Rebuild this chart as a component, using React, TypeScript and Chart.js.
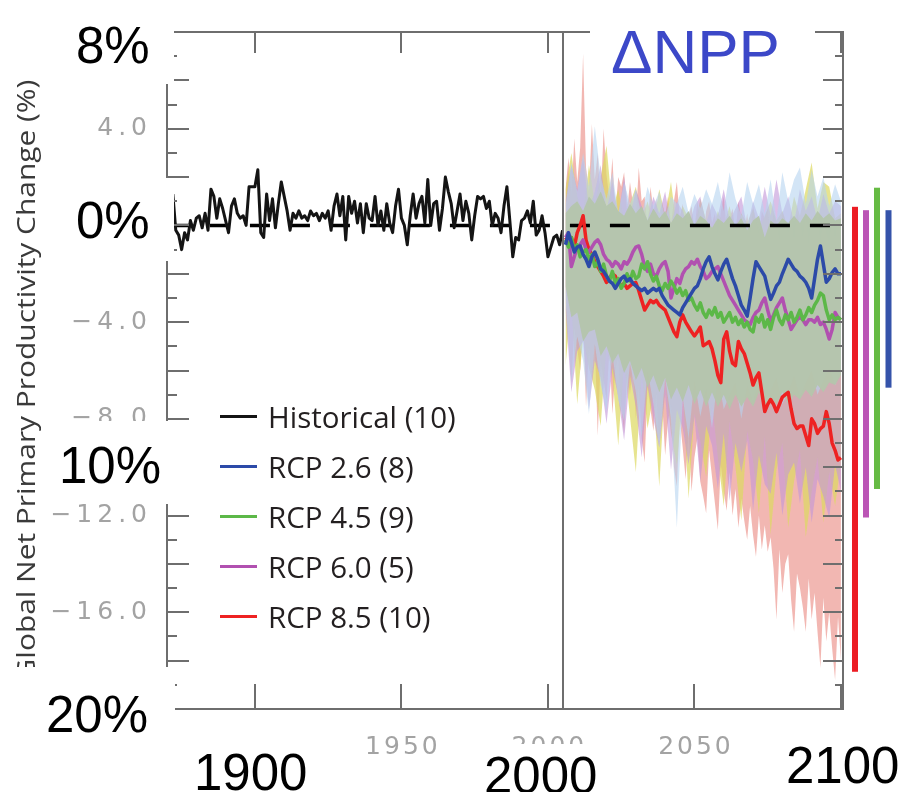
import React, { useEffect, useRef } from "react";
import { Chart, registerables } from "chart.js";

Chart.register(...registerables);

// ---------- DATA ----------
const HIST_START = 1872;
const RCP_START = 2006;
const BAND_STEP = 2;
const DIVIDER_YEAR = 2005;

const historical = [
  1.3, -0.2, -0.4, -1.0, -0.3, -0.6, 0.2, -0.2, 0.3, 0.4,
  -0.1, 0.5, -0.2, 1.5, 1.2, 0.3, 1.1, 0.7, 0.2, -0.3,
  0.8, 1.1, 0.5, 0.3, 0.4, 0.0, 1.6, 1.6, 1.6, 2.3,
  -0.3, -0.5, 1.3, 0.2, 1.1, -0.1, 0.9, 1.8, 1.2, 0.6,
  -0.2, 0.5, 0.3, 0.6, 0.3, 0.4, 0.2, 0.6, 0.4, 0.5,
  0.2, 0.5, 0.3, 0.6, -0.2, 0.8, 1.3, 0.4, 1.2, -0.6,
  1.2, 0.5, 1.0, 0.1, 0.9, -0.3, 0.9, 0.3, 0.2, 1.2,
  0.0, 0.6, -0.2, 0.9, 0.1, -0.3, 0.8, 1.5, 0.3, 0.0,
  -0.8, 0.4, 1.3, 0.3, 0.9, 1.2, 0.1, 1.9, 0.0, 0.9,
  1.0, -0.2, 0.7, 2.0, 1.4, 0.9, -0.1, 0.6, 1.3, 0.2,
  1.0, 0.5, -0.6, 0.4, 1.2, 1.1, 1.2, 0.7, 1.0, 0.0,
  0.5, 0.3, -0.3, 0.8, 1.6, 0.2, -1.3, -0.5, -0.6, 0.2,
  0.3, 0.6, 0.1, 1.0, -0.4, -0.2, 0.4, -0.3, -1.3, -0.9,
  -0.5, -0.4, -0.8, -0.2,
];

const rcp26 = [
  -0.8, -0.3, -0.7, -1.1, -0.9, -0.85, -1.2, -1.4, -1.7, -1.3,
  -1.1, -1.4, -1.8, -1.9, -2.1, -2.3, -2.4, -2.6, -2.4, -2.2,
  -2.1, -2.3, -2.2, -2.4, -2.5, -2.6, -2.7, -2.6, -2.8, -2.7,
  -2.6, -2.7, -2.6, -2.9, -3.1, -3.3, -3.4, -3.5, -3.6, -3.7,
  -3.4, -3.2, -3.0, -2.8, -2.6, -2.5, -2.2, -1.8, -1.5, -1.3,
  -1.7, -2.0, -2.25, -1.9, -1.6, -1.4, -1.8, -2.2, -2.5, -2.9,
  -3.3, -3.5, -3.75, -3.0, -2.2, -1.5, -1.7, -1.9, -2.1, -2.6,
  -3.06, -2.8, -2.5, -2.35, -2.0, -1.7, -1.4, -1.6, -1.8, -1.9,
  -2.1, -2.2, -2.35, -2.6, -3.0, -2.2, -1.4, -0.85, -1.6, -2.35,
  -2.2, -1.95, -1.8, -2.0, -2.0,
];

const rcp45 = [
  -0.6, -0.9, -0.5, -1.0, -0.8, -1.3, -1.1, -1.0, -1.4, -1.2,
  -1.7, -1.5, -1.9, -1.6, -2.1, -2.3, -1.9, -2.4, -2.2, -2.6,
  -2.4, -2.0, -2.3, -1.9, -2.2, -2.1, -1.6, -1.8, -1.5, -2.0,
  -2.3, -2.1, -2.5, -2.7, -2.4, -2.6, -2.3, -2.5, -2.8, -2.6,
  -2.9, -2.7, -3.1, -3.0, -3.3, -3.5, -3.2, -3.6, -3.8, -3.5,
  -3.7, -3.4, -3.8, -3.6, -4.0, -3.8, -3.6, -4.0, -3.8, -4.1,
  -3.9, -4.2, -4.0, -4.3, -4.4, -3.8, -4.0, -3.7, -4.2, -3.9,
  -4.3, -3.8, -3.5, -3.9, -4.1, -3.7, -3.9, -3.6, -4.0, -3.8,
  -3.5, -3.9, -3.7, -3.4, -3.6, -3.3, -3.1, -2.8, -2.9, -3.5,
  -3.9, -3.7, -3.9, -3.8, -3.9,
];

const rcp60 = [
  -0.5, -0.3, -1.7, -1.3, -0.9, -0.8, -0.6, -1.0, -1.1, -0.9,
  -0.7, -0.6, -0.8, -1.2, -1.4, -1.5, -1.7, -1.5, -1.6, -1.8,
  -1.5, -1.6, -1.4, -1.1, -0.9, -0.85, -1.2, -1.7, -1.9, -1.6,
  -2.0, -2.1, -1.8, -1.6, -1.5, -1.9, -3.0, -2.6, -2.2, -2.4,
  -2.0, -1.8, -1.7, -1.5, -1.6, -1.4, -1.7, -1.9, -2.2, -2.1,
  -1.9, -1.8, -1.7, -2.0, -2.3, -2.6, -2.9, -3.1, -3.3, -3.5,
  -3.7, -3.9, -4.0, -4.1, -3.8, -3.6, -3.5, -3.2, -3.0, -3.5,
  -3.96, -3.7, -3.4, -3.2, -3.0, -3.5, -3.9, -4.3, -4.1, -3.9,
  -3.8, -3.9, -4.1, -3.9, -3.9, -4.0, -3.8, -4.1, -4.0, -4.3,
  -4.7, -4.3, -3.6, -3.8, -3.9,
];

const rcp85 = [
  -0.5, -0.7, -0.5, -0.9, -0.3, 0.0, 0.4, -0.6, -1.0, -1.2,
  -1.5, -1.7, -1.9, -2.1, -2.36, -2.2, -2.0, -2.1, -2.4, -2.5,
  -2.4, -2.6, -2.5, -2.4, -2.36, -2.7, -3.1, -3.5, -3.3, -3.1,
  -3.2, -3.1, -3.3, -3.4, -3.5, -3.8, -4.1, -4.4, -4.6, -4.0,
  -3.7, -4.0, -4.2, -4.4, -4.57, -4.4, -4.2, -4.98, -4.9, -4.8,
  -5.1, -5.6, -6.2, -6.5, -4.7, -4.4, -5.2, -5.7, -5.8, -4.8,
  -5.1, -5.3, -5.7, -6.1, -6.6, -6.3, -6.1, -6.9, -7.7, -7.4,
  -7.2, -7.4, -7.7, -7.4, -7.1, -7.0, -6.9, -7.6, -8.2, -8.4,
  -8.3, -8.3, -8.7, -9.1, -8.0, -8.2, -8.6, -8.4, -8.3, -7.7,
  -8.2, -9.0, -9.3, -9.7, -9.6,
];

// model spread, RCP 8.5 (annual)
const band85Upper = [
  1.5, 2.8, 1.2, 3.6, 1.8, 3.2, 7.1, 2.4, 1.4, 4.2,
  1.9, 3.0, 0.9, 4.0, 2.1, 1.1, 2.8, 0.5, 2.0, 1.6,
  2.2, 0.6, 1.8, 0.9, 0.2, 2.4, 1.0, 1.2, -0.1, 1.6,
  0.6, 1.1, -0.2, 0.9, 0.4, 1.2, 0.1, 1.0, 1.8, 0.3,
  0.9, -0.3, 0.4, 0.8, -0.2, 1.0, 0.2, -0.5, 0.6, 1.0,
  0.1, 0.5, -0.6, 0.6, 1.2, -0.2, 0.3, 0.7, -0.4, 1.0,
  0.3, -0.3, 0.5, -0.7, 0.8, 0.1, -0.5, 0.6, 0.3, 0.7,
  -0.4, 0.5, 0.1, -0.8, 0.6, 0.2, -0.5, 0.4, -0.9, 0.5,
  0.1, -0.6, 0.3, -1.0, 0.4, -0.2, 0.2, -0.9, 0.3, -0.4,
  -0.8, 0.1, -0.7, 0.2, -0.4,
];
const band85Lower = [
  -2.5, -4.5, -6.5, -4.2, -5.1, -6.0, -3.8, -7.5, -5.0, -6.3,
  -4.9, -8.7, -5.6, -6.4, -7.2, -5.1, -7.8, -6.0, -5.4, -7.5,
  -8.6, -6.1, -7.0, -5.8, -8.0, -6.6, -8.8, -9.8, -6.7, -7.6,
  -8.5, -6.9, -9.0, -7.3, -9.5, -8.1, -7.4, -10.0, -10.8, -8.0,
  -9.2, -10.5, -8.4, -11.0, -9.6, -8.8, -10.6, -11.2, -11.9, -9.3,
  -10.4, -11.5, -12.6, -9.9, -11.0, -11.8, -10.2, -12.0, -10.9, -12.5,
  -11.3, -12.2, -13.0, -11.6, -12.8, -13.7, -12.0, -13.4, -12.4, -13.5,
  -12.9, -14.2, -16.3, -13.4, -15.2, -14.0, -13.6, -15.5, -16.8, -14.4,
  -15.0, -15.8, -16.8, -14.6, -16.3, -15.2, -16.8, -18.3, -15.4, -17.2,
  -16.0, -17.5, -18.8, -16.2, -18.0,
];

// model spreads, every second year from 2006
const band45Upper = [
  1.5, 3.0, 1.2, 0.4, 2.5, 0.9, 2.0, 3.3,
  0.6, 1.5, 0.2, 0.9, 1.6, 0.3, 1.0, 0.1,
  1.5, 0.4, 1.8, -0.1, 0.8, 0.3, -0.2, 1.1,
  0.2, -0.3, 0.6, 0.0, 0.8, -0.4, 0.5, 0.1,
  0.7, -0.2, 0.4, 1.0, 0.2, 0.6, -0.1, 1.2,
  0.4, 1.5, 2.6, 0.7, 1.8, 1.6, 0.3, 0.5,
];
const band45Lower = [
  -5.8, -3.2, -7.4, -4.6, -5.9, -6.8, -8.3, -4.9,
  -6.2, -9.1, -5.6, -7.9, -10.2, -6.1, -8.4, -7.0,
  -10.8, -6.4, -8.6, -9.9, -6.9, -11.3, -7.8, -8.9,
  -10.4, -7.3, -9.6, -11.6, -8.1, -10.0, -12.2, -8.5,
  -9.7, -11.9, -8.7, -12.8, -10.1, -9.0, -12.5, -10.6,
  -9.3, -12.9, -11.0, -9.6, -12.3, -10.2, -11.6, -9.8,
];
const band60Upper = [
  1.0, 2.5, 1.5, 2.8, 0.7, 1.4, 2.5, 0.6,
  1.8, 0.4, 2.0, 0.3, 1.5, 0.8, 0.2, 1.2,
  0.5, 1.4, 0.0, 1.0, 0.6, -0.1, 0.8, 1.2,
  0.1, 0.9, 0.4, 1.5, 0.2, 0.7, 1.2, -0.1,
  1.0, 0.3, 1.6, 0.4, 1.9, 0.5, 1.2, 0.1,
  1.5, 0.6, 1.2, 0.2, 1.3, 0.5, 1.0, 0.8,
];
const band60Lower = [
  -3.5, -6.9, -5.2, -4.8, -7.6, -5.6, -6.3, -8.2,
  -5.9, -7.1, -8.9, -6.2, -7.5, -9.6, -6.6, -8.0,
  -9.2, -7.0, -10.1, -7.6, -8.4, -9.9, -7.9, -10.6,
  -8.3, -9.1, -10.9, -8.6, -11.4, -9.0, -10.2, -8.9,
  -11.8, -9.5, -10.7, -11.1, -9.4, -12.0, -10.3, -9.8,
  -11.5, -10.0, -12.3, -10.5, -11.2, -12.1, -9.9, -11.0,
];
const band26Upper = [
  0.8, 2.6, 1.4, 3.0, 1.6, 4.1, 2.0, 1.1,
  2.2, 0.5, 1.8, 0.9, 1.5, 0.4, 1.6, 0.8,
  1.4, 0.3, 1.2, 0.9, 1.6, 0.5, 1.3, 0.7,
  1.5, 0.9, 1.8, 0.6, 2.2, 1.1, 0.4, 1.8,
  0.9, 1.7, 0.5, 1.9, 0.2, 2.2, 1.0, 1.9,
  2.4, 0.9, 2.3, 1.2, 2.0, 0.8, 1.7, 1.0,
];
const band26Lower = [
  -3.0, -6.5, -4.6, -5.6, -7.8, -4.9, -6.6, -7.7,
  -5.3, -7.2, -8.1, -5.7, -6.9, -8.8, -6.0, -7.4,
  -9.2, -6.3, -8.0, -12.5, -7.1, -8.8, -6.4, -7.9,
  -6.7, -8.4, -6.2, -7.6, -7.0, -6.5, -8.0, -6.6,
  -7.3, -6.4, -7.8, -6.8, -6.3, -7.4, -6.9, -6.2,
  -7.1, -6.5, -6.0, -7.0, -6.4, -5.9, -6.6, -6.0,
];
const bandCommonUpper = [
  0.5, 0.8, 1.0, 0.6, 1.2, 0.9, 1.4, 0.8,
  1.0, 0.6, 0.4, 0.9, 0.5, 0.8, 0.2, 0.7,
  0.3, 0.6, 0.1, 0.5, 0.3, 0.6, 0.0, 0.4,
  0.2, -0.1, 0.3, 0.1, 0.4, 0.0, 0.3, -0.2,
  0.2, 0.4, -0.5, 0.2, 0.0, 0.3, 0.1, 0.4,
  0.1, 0.5, 0.2, 0.6, 0.3, 0.5, 0.2, 0.3,
];
const bandCommonLower = [
  -2.5, -3.8, -3.6, -4.8, -4.4, -4.3, -5.4, -5.0,
  -5.7, -5.3, -6.1, -5.6, -6.4, -5.9, -6.7, -6.2,
  -6.9, -6.3, -7.2, -6.7, -7.3, -6.6, -7.4, -6.8,
  -7.5, -6.9, -7.5, -7.0, -7.6, -7.0, -7.5, -7.1,
  -7.5, -6.9, -7.6, -7.1, -7.4, -6.9, -7.4, -7.0,
  -7.2, -6.8, -7.1, -6.6, -6.9, -6.5, -6.6, -6.2,
];

const zeroLineYears = [1871, 2100];
const zeroLineValues = [0, 0];

// 2081-2100 range bars (right side)
const rangeNames = ["RCP 8.5", "RCP 6.0", "RCP 4.5", "RCP 2.6"];
const rangeTop = [0.77, 0.63, 1.56, 0.63];
const rangeBottom = [-18.46, -12.08, -10.9, -6.71];

const yLabelValues = [-20, -16, -12, -8, -4, 0, 4, 8];
const xTickValues = [1900, 1950, 2000, 2050, 2100];

const legendLabels = ["Historical (10)", "RCP 2.6 (8)", "RCP 4.5 (9)", "RCP 6.0 (5)", "RCP 8.5 (10)"];

// ---------- STYLE ----------
const C_HIST = "#141414";
const C26 = "#2c4aa8";
const C45 = "#5cb848";
const C60 = "#b150b0";
const C85 = "#ee2222";
const legendColors = [C_HIST, C26, C45, C60, C85];
const rangeColors = ["#ec1c24", "#bb55b5", "#66bb44", "#3553aa"];

const pts = (start: number, step: number, vals: number[]) =>
  vals.map((v, i) => ({ x: start + i * step, y: v }));

const bandPair = (lower: number[], upper: number[], start: number, step: number, color: string, order: number) => [
  {
    data: pts(start, step, lower),
    borderWidth: 0,
    borderColor: "rgba(0,0,0,0)",
    pointRadius: 0,
    fill: false,
    order,
  },
  {
    data: pts(start, step, upper),
    borderWidth: 0,
    borderColor: "rgba(0,0,0,0)",
    backgroundColor: color,
    pointRadius: 0,
    fill: "-1",
    order,
  },
];

const lineDs = (data: any[], color: string, width: number, order: number, extra: any = {}) => ({
  data,
  borderColor: color,
  borderWidth: width,
  pointRadius: 0,
  fill: false,
  borderJoinStyle: "round",
  order,
  ...extra,
});

const framePlugin = {
  id: "npgFrame",
  afterDatasetsDraw(chart: any) {
    const { ctx, chartArea: a, scales } = chart;
    const xs = scales.x;
    const ys = scales.y;
    ctx.save();
    ctx.strokeStyle = "#6e6e6e";
    ctx.lineWidth = 2;
    ctx.beginPath();
    ctx.rect(a.left, a.top, a.right - a.left, a.bottom - a.top);
    ctx.stroke();

    const xd = Math.round(xs.getPixelForValue(DIVIDER_YEAR));
    ctx.beginPath();
    ctx.moveTo(xd, a.top);
    ctx.lineTo(xd, a.bottom);
    ctx.stroke();

    ctx.beginPath();
    for (let v = ys.min + 1; v < ys.max; v++) {
      const py = Math.round(ys.getPixelForValue(v));
      const major = v % 2 === 0;
      ctx.moveTo(a.left, py);
      ctx.lineTo(a.left + (major ? 22 : 10), py);
      ctx.moveTo(a.right, py);
      ctx.lineTo(a.right - (major ? 20 : 8), py);
    }
    for (const t of xTickValues) {
      const px = Math.round(xs.getPixelForValue(t));
      ctx.moveTo(px, a.bottom);
      ctx.lineTo(px, a.bottom - 25);
      ctx.moveTo(px, a.top);
      ctx.lineTo(px, a.top + 21);
    }
    ctx.stroke();

    ctx.fillStyle = "#a3a3a3";
    ctx.font = '25px "DejaVu Sans"';
    (ctx as any).letterSpacing = "5px";
    ctx.textAlign = "right";
    ctx.textBaseline = "middle";
    for (const v of yLabelValues) {
      const txt = (v < 0 ? "\u2212" : "") + Math.abs(v).toFixed(1);
      ctx.fillText(txt, a.left - 20 + 5, ys.getPixelForValue(v));
    }
    (ctx as any).letterSpacing = "3px";
    ctx.textAlign = "center";
    ctx.textBaseline = "alphabetic";
    for (const t of xTickValues) {
      ctx.fillText(String(t), xs.getPixelForValue(t) + 1.5, 754);
    }
    (ctx as any).letterSpacing = "0px";

    const offs = [12, 23, 34, 45.5];
    rangeTop.forEach((top, i) => {
      const y1 = ys.getPixelForValue(top);
      const y2 = ys.getPixelForValue(rangeBottom[i]);
      ctx.fillStyle = rangeColors[i];
      ctx.fillRect(a.right + offs[i] - 3, y1, 6, y2 - y1);
    });
    ctx.restore();
  },
};

const whiteBoxes = [
  { l: 60, t: 12, w: 114, h: 72 },
  { l: 60, t: 178, w: 114, h: 83 },
  { l: 45, t: 421, w: 160, h: 83 },
  { l: 0, t: 667, w: 175, h: 125 },
  { l: 185, t: 722, w: 140, h: 70 },
  { l: 470, t: 744, w: 140, h: 48 },
  { l: 780, t: 722, w: 124, h: 70 },
  { l: 590, t: 0, w: 225, h: 80 },
];

const bigLabels = [
  { text: "8%", l: 76, t: 20, s: 51, c: "#000" },
  { text: "0%", l: 76, t: 195, s: 51, c: "#000" },
  { text: "10%", l: 59, t: 440, s: 51, c: "#000" },
  { text: "20%", l: 46, t: 689, s: 51, c: "#000" },
  { text: "1900", l: 194, t: 747, s: 51, c: "#000" },
  { text: "2000", l: 484, t: 750, s: 51, c: "#000" },
  { text: "2100", l: 786, t: 740, s: 51, c: "#000" },
  { text: "\u0394NPP", l: 611, t: 21, s: 62, c: "#3c48c8" },
];

export default function App() {
  const ref = useRef<HTMLCanvasElement>(null);

  useEffect(() => {
    if (!ref.current) return;
    const datasets: any[] = [
      ...bandPair(band85Lower, band85Upper, RCP_START, 1, "rgba(240,170,165,0.85)", 10),
      ...bandPair(band45Lower, band45Upper, RCP_START, BAND_STEP, "rgba(222,218,100,0.72)", 9),
      ...bandPair(band60Lower, band60Upper, RCP_START, BAND_STEP, "rgba(196,152,216,0.62)", 8),
      ...bandPair(band26Lower, band26Upper, RCP_START, BAND_STEP, "rgba(182,212,240,0.6)", 7),
      ...bandPair(bandCommonLower, bandCommonUpper, RCP_START, BAND_STEP, "rgba(180,197,172,0.95)", 6),
      lineDs(
        zeroLineYears.map((x, i) => ({ x, y: zeroLineValues[i] })),
        "#000",
        3.5,
        5,
        { borderDash: [20, 20], borderJoinStyle: "miter" }
      ),
      lineDs(pts(HIST_START, 1, historical), C_HIST, 3, 1),
      lineDs(pts(RCP_START, 1, rcp85), C85, 3.5, 4),
      lineDs(pts(RCP_START, 1, rcp60), C60, 3.5, 3),
      lineDs(pts(RCP_START, 1, rcp45), C45, 3.5, 2),
      lineDs(pts(RCP_START, 1, rcp26), C26, 3.5, 1),
    ];
    const chart = new Chart(ref.current, {
      type: "line",
      data: { datasets },
      options: {
        animation: false,
        responsive: false,
        devicePixelRatio: 1,
        parsing: false as any,
        layout: { padding: { left: 167, right: 61, top: 32, bottom: 83 } },
        elements: { line: { tension: 0 }, point: { radius: 0 } },
        scales: {
          x: { type: "linear", min: 1870, max: 2100.7, display: false },
          y: { type: "linear", min: -20, max: 8, display: false },
        },
        plugins: { legend: { display: false }, tooltip: { enabled: false } },
      } as any,
      plugins: [framePlugin],
    });
    return () => chart.destroy();
  }, []);

  return (
    <div
      style={{
        position: "absolute",
        left: 0,
        top: 0,
        width: 904,
        height: 792,
        overflow: "hidden",
        background: "#fff",
      }}
    >
      <canvas ref={ref} width={904} height={792} style={{ position: "absolute", left: 0, top: 0, width: 904, height: 792 }} />

      <div
        style={{
          position: "absolute",
          left: 24.6 - 400,
          top: 379.5 - 13,
          width: 800,
          height: 26,
          lineHeight: "26px",
          fontSize: 26,
          fontFamily: '"Open Sans", sans-serif',
          color: "#3a3a3a",
          textAlign: "center",
          whiteSpace: "nowrap",
          transform: "rotate(-90deg) scaleX(1.15)",
          transformOrigin: "center",
        }}
      >
        Global Net Primary Productivity Change (%)
      </div>

      {legendLabels.map((lab, i) => {
        const cy = 417.5 + i * 50;
        return (
          <React.Fragment key={lab}>
            <div
              style={{
                position: "absolute",
                left: 220,
                top: cy - 2.5,
                width: 37,
                height: 3,
                background: legendColors[i],
              }}
            />
            <div
              style={{
                position: "absolute",
                left: 268,
                top: cy - 15.4,
                fontSize: 29.5,
                lineHeight: "29.5px",
                fontFamily: '"Open Sans", sans-serif',
                color: "#231f20",
                whiteSpace: "nowrap",
              }}
            >
              {lab}
            </div>
          </React.Fragment>
        );
      })}

      {whiteBoxes.map((b, i) => (
        <div
          key={"b" + i}
          style={{ position: "absolute", left: b.l, top: b.t, width: b.w, height: b.h, background: "#fff" }}
        />
      ))}

      {bigLabels.map((lb) => (
        <div
          key={lb.text}
          style={{
            position: "absolute",
            left: lb.l,
            top: lb.t,
            fontSize: lb.s,
            lineHeight: lb.s + "px",
            fontFamily: '"Liberation Sans", Arial, sans-serif',
            color: lb.c,
            whiteSpace: "nowrap",
          }}
        >
          {lb.text}
        </div>
      ))}
    </div>
  );
}
